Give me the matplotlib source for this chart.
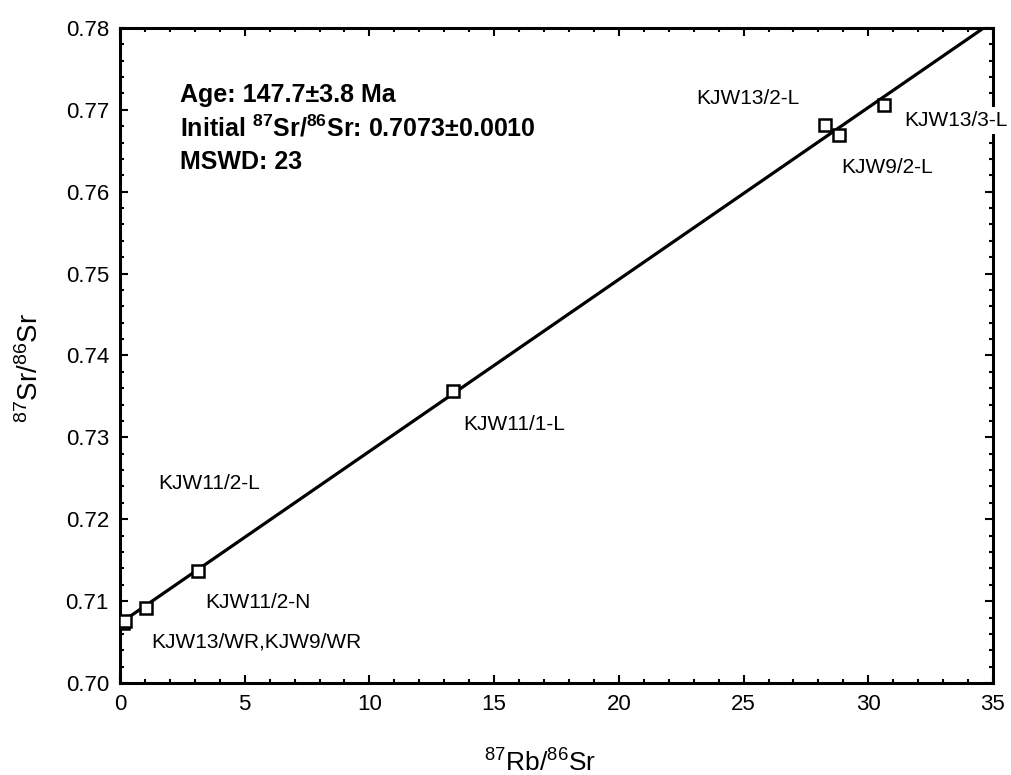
#!/usr/bin/python

"""Rb-Sr isochron plot for the KJW samples."""

import numpy as np
import matplotlib
matplotlib.use('Agg')
import matplotlib.pyplot as plt
from matplotlib.ticker import MultipleLocator

plt.rcParams['font.family'] = ['Liberation Sans', 'DejaVu Sans']
plt.rcParams['mathtext.default'] = 'regular'

# measured ratios
sample_names = ['KJW13/WR', 'KJW9/WR', 'KJW11/2-N', 'KJW11/2-L', 'KJW11/1-L',
                'KJW13/2-L', 'KJW9/2-L', 'KJW13/3-L']
rb86 = [0.10, 0.20, 1.03, 3.14, 13.36, 28.27, 28.84, 30.63]
sr87 = [0.7073, 0.7076, 0.7091, 0.7137, 0.7357, 0.7681, 0.7669, 0.7706]

# isochron result
age_ma = 147.7
age_err = 3.8
sr_initial = 0.7073
sr_initial_err = 0.0010
mswd = 23
decay_const = 1.42e-11  # 87Rb, per year

# label anchors (data coords)
label_text = ['KJW13/WR,KJW9/WR', 'KJW11/2-N', 'KJW11/2-L', 'KJW11/1-L',
              'KJW13/2-L', 'KJW9/2-L', 'KJW13/3-L']
label_x = [1.25, 3.4, 1.55, 13.75, 23.1, 28.9, 31.45]
label_y = [0.7050, 0.7098, 0.7244, 0.7316, 0.7714, 0.7630, 0.7687]

fig = plt.figure(figsize=(10.12, 7.75), dpi=100)
ax = fig.add_axes([0.1186, 0.1187, 0.8626, 0.8452])

slope = np.exp(decay_const * age_ma * 1e6) - 1
xs = np.array([0, 36])
ax.plot(xs, sr_initial + slope * xs, color='black', lw=2.3, zorder=2)
ax.plot(rb86, sr87, 's', ms=8, mfc='white', mec='black', mew=1.8, zorder=3)

for txt, lx, ly in zip(label_text, label_x, label_y):
    # white box so the label sits over the frame where it crosses it
    ax.text(lx, ly, txt, fontsize=15, ha='left', va='center', clip_on=False,
            zorder=5, bbox=dict(facecolor='white', edgecolor='none', pad=3))

info = [f'Age: {age_ma}\u00b1{age_err} Ma',
        f'Initial $^{{87}}$Sr/$^{{86}}$Sr: {sr_initial:.4f}\u00b1{sr_initial_err:.4f}',
        f'MSWD: {mswd}']
for i, line in enumerate(info):
    ax.text(2.4, 0.7718 - i * 0.0041, line, fontsize=18, fontweight='bold',
            ha='left', va='center')

ax.set_xlim(0, 35)
ax.set_ylim(0.70, 0.78)
ax.xaxis.set_major_locator(MultipleLocator(5))
ax.xaxis.set_minor_locator(MultipleLocator(1))
ax.yaxis.set_major_locator(MultipleLocator(0.01))
ax.yaxis.set_minor_locator(MultipleLocator(0.002))
ax.yaxis.set_major_formatter(plt.FormatStrFormatter('%.2f'))
ax.tick_params(which='both', direction='in', top=True, right=True,
               labelsize=16, width=1.5)
ax.tick_params(which='major', length=6, pad=8)
ax.tick_params(which='minor', length=3)
for sp in ax.spines.values():
    sp.set_linewidth(2.2)

fig.text(0.534, 0.016, '$^{87}$Rb/$^{86}$Sr', fontsize=19, ha='center', va='center')
fig.text(0.030, 0.525, '$^{87}$Sr/$^{86}$Sr', fontsize=20, ha='center', va='center',
         rotation=90)

fig.savefig('out.png', dpi=100)
